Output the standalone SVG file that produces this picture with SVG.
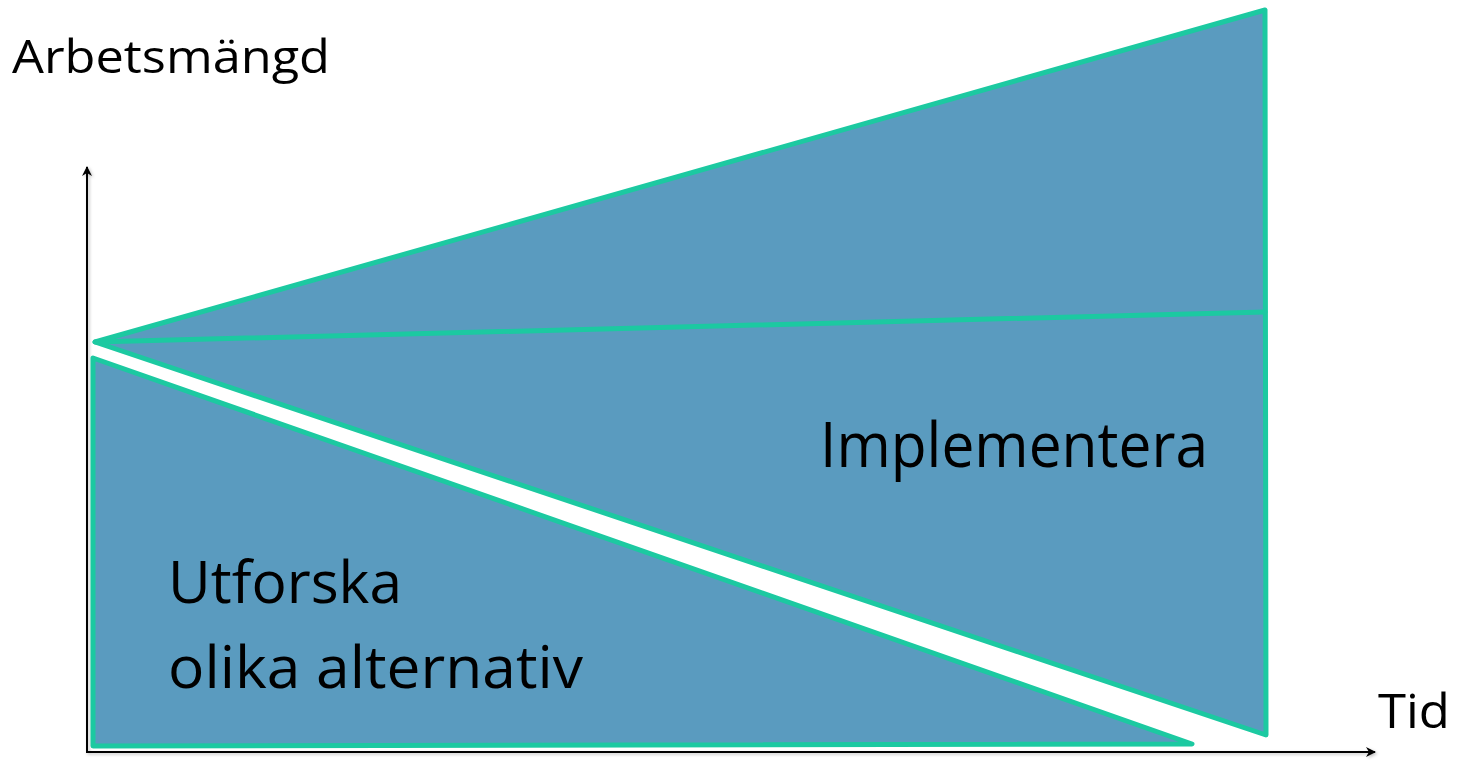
<svg xmlns="http://www.w3.org/2000/svg" width="1462" height="760" viewBox="0 0 1462 760">
  <style>
    .shape { fill: #5A9BBF; stroke: #1CC9A1; stroke-width: 5; stroke-linejoin: round; }
    .div { fill: none; stroke: #1CC9A1; stroke-width: 5; stroke-linecap: round; }
    .axis { stroke: #000; stroke-width: 2; fill: none; }
    .lbl { font-family: "Open Sans", "Liberation Sans", sans-serif; fill: #000; }
  </style>
  <defs>
    <marker id="arr" viewBox="0 0 10 10" refX="9" refY="5" markerWidth="10" markerHeight="10" markerUnits="userSpaceOnUse" orient="auto">
      <path d="M0,0 L10,5 L0,10 L3,5 z" fill="#000"/>
    </marker>
    <filter id="sh" x="-5%" y="-5%" width="110%" height="110%">
      <feDropShadow dx="1.5" dy="1.5" stdDeviation="1.5" flood-color="#000" flood-opacity="0.25"/>
    </filter>
  </defs>
  <rect width="1462" height="760" fill="#fff"/>

  <g id="connectors" filter="url(#sh)">
    <line class="axis" x1="87" y1="752" x2="87" y2="167" marker-end="url(#arr)"/>
    <line class="axis" x1="86" y1="752" x2="1375" y2="752" marker-end="url(#arr)"/>
  </g>

  <g id="implementera">
    <polygon class="shape" points="95,342 1265,10 1266,735"/>
    <line class="div" x1="95" y1="342" x2="1265" y2="312"/>
    <text class="lbl" x="820" y="467" font-size="62" textLength="388" lengthAdjust="spacingAndGlyphs">Implementera</text>
  </g>

  <g id="utforska">
    <polygon class="shape" points="93,358 1192,744 93,746"/>
    <text class="lbl" x="168" y="603" font-size="58" textLength="234" lengthAdjust="spacingAndGlyphs">Utforska</text>
    <text class="lbl" x="168" y="688" font-size="58" textLength="415" lengthAdjust="spacingAndGlyphs">olika alternativ</text>
  </g>

  <g id="axis-labels">
    <text class="lbl" x="12" y="73" font-size="46" textLength="318" lengthAdjust="spacingAndGlyphs">Arbetsmängd</text>
    <text class="lbl" x="1378" y="728" font-size="47" textLength="72" lengthAdjust="spacingAndGlyphs">Tid</text>
  </g>
</svg>
